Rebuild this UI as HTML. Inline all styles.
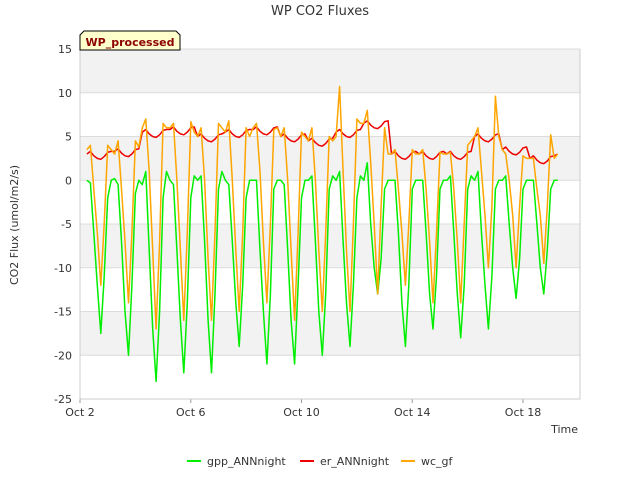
<!DOCTYPE html>
<html><head><meta charset="utf-8"><style>
body{margin:0;background:#fff;font-family:"Liberation Sans","DejaVu Sans",sans-serif;}
svg text{font-family:"DejaVu Sans","Liberation Sans",sans-serif;}
</style></head><body>
<svg id="c" width="640" height="480" xmlns="http://www.w3.org/2000/svg">
<text x="320" y="15" text-anchor="middle" font-size="13" fill="#333">WP CO2 Fluxes</text>
<g id="bands"></g><g id="grid"></g><g id="series"></g><g id="axes"></g>
<g>
<path d="M80,50 L80,35 L84,31 L176,31 L180,35 L180,50 Z" fill="#ffffcc" stroke="#000" stroke-width="1"/>
<text x="130" y="46" text-anchor="middle" font-size="11" font-weight="bold" fill="#8b0000">WP_processed</text>
</g>
<text x="18" y="225" transform="rotate(-90 18 225)" text-anchor="middle" font-size="11" fill="#333">CO2 Flux (umol/m2/s)</text>
<text x="578" y="433" text-anchor="end" font-size="11" fill="#333">Time</text>
<g id="legend"></g>
</svg>
<script>
const yTicks=[15,10,5,0,-5,-10,-15,-20,-25];
const xTickDays=[2,6,10,14,18];
const xTickLabels=["Oct 2","Oct 6","Oct 10","Oct 14","Oct 18"];
const startDay=2.25, stepDay=0.125;
const gpp=[0,-0.3,-6,-12,-17.5,-11,-2,0, 0.2,-0.5,-7,-15,-20,-12,-1.5,0, -0.5,1,-8,-17,-23,-15,-2,1, 0,-0.5,-8,-16,-22,-14,-2,0.5, 0,0.5,-7,-16,-22,-13,-1,1, 0,-0.5,-7,-14,-19,-12,-2,0, 0,0,-8,-15,-21,-13,-1,0, 0,-0.5,-8,-16,-21,-12,-2,0, 0,0.5,-7,-15,-20,-13,-1,0.5, 0,1,-7,-14,-19,-12,-2,0.5, 0,2,-5,-10,-13,-9,-1,0, 0,0,-6,-14,-19,-12,-1,0, 0,0,-6,-13,-17,-11,-1,0, 0,0.5,-6,-13,-18,-12,-1,0.5, 0,1,-6,-12,-17,-11,-1,0, 0,0.5,-5,-10,-13.5,-9,-1,0, 0,0,-5,-10,-13,-8,-1,0, 0];
const er=[3,3.3,2.8,2.5,2.4,2.7,3.2,3.3, 3.3,3.6,3.1,2.8,2.7,3,3.5,3.6, 5.5,5.8,5.3,5,4.9,5.2,5.7,5.8, 5.8,6.1,5.6,5.3,5.2,5.5,6,6.1, 5,5.3,4.8,4.5,4.4,4.7,5.2,5.3, 5.5,5.8,5.3,5,4.9,5.2,5.7,5.8, 5.8,6.1,5.6,5.3,5.2,5.5,6,6.1, 5,5.3,4.8,4.5,4.4,4.7,5.2,5.3, 4.5,4.8,4.3,4,3.9,4.2,4.7,4.8, 5.5,5.8,5.3,5,4.9,5.2,5.7,5.8, 6.5,6.8,6.3,6,5.9,6.2,6.7,6.8, 3,3.3,2.8,2.5,2.4,2.7,3.2,3.3, 3,3.3,2.8,2.5,2.4,2.7,3.2,3.3, 3,3.3,2.8,2.5,2.4,2.7,3.2,3.3, 5,5.3,4.8,4.5,4.4,4.7,5.2,5.3, 3.5,3.8,3.3,3,2.9,3.2,3.7,3.8, 2.5,2.8,2.3,2,1.9,2.2,2.7,2.8, 3];
const wc=[3.5,4,-1,-6,-12,-5,4,3.5, 3,4.5,-1,-7,-14,-6,4.5,3.8, 6,7,1,-8,-17,-7,6.5,6, 6,6.5,0,-8,-16,-6,6.7,5.5, 5,6,0,-9,-16,-6,6.5,6, 5.5,6.8,0,-8,-15,-6,6,5, 6,6.5,1,-7,-14,-5,5.8,6, 5,6,0,-8,-16,-6,5.5,5, 4.5,6,0,-8,-15,-6,5,4.5, 5,10.7,1,-8,-15,-5,7,6.5, 6.5,8,2,-5,-13,-3,6,3, 3,3.5,-1,-6,-12,-5,3.5,3, 3,3.5,-1,-7,-14,-6,3.2,3, 3,3.2,-1,-7,-14,-5,4,4.5, 5,6,1,-4,-10,-3,9.6,5, 3.5,3,0,-4,-10,-3,2.8,2.5, 2.5,2.5,-1,-4,-9.5,-3,5.2,2.5, 3];
const NS="http://www.w3.org/2000/svg";
const L=80,R=580,T=49,B=399,yMin=-25,yMax=15;
const xS=d=>80+(d-2)*27.69;
const yS=v=>T+(yMax-v)/(yMax-yMin)*(B-T);
function mk(tag,attrs,parent){const e=document.createElementNS(NS,tag);for(const k in attrs)e.setAttribute(k,attrs[k]);parent.appendChild(e);return e;}
const bands=document.getElementById('bands'),grid=document.getElementById('grid'),axes=document.getElementById('axes'),ser=document.getElementById('series'),leg=document.getElementById('legend');
mk('rect',{x:L,y:T,width:R-L,height:B-T,fill:'#fff'},bands);
for(let i=0;i<yTicks.length-1;i+=2){const a=yTicks[i],b=yTicks[i+1];
 const r=mk('rect',{x:L,y:yS(a),width:R-L,height:yS(b)-yS(a),fill:'#f2f2f2'},bands);
 
 }
yTicks.forEach(v=>{
 const ln=mk('line',{x1:L,x2:R,y1:yS(v),y2:yS(v),stroke:'#dcdcdc','stroke-width':1},grid);
 
 
 const t=mk('text',{x:L-8,y:yS(v)+4,'text-anchor':'end','font-size':11,fill:'#333'},axes);t.textContent=v;
 
 });
xTickDays.forEach((d,i)=>{
 const t=mk('text',{x:xS(d),y:416,'text-anchor':'middle','font-size':11,fill:'#333'},axes);t.textContent=xTickLabels[i];
 
 
 mk('line',{x1:xS(d),x2:xS(d),y1:B,y2:B+4,stroke:'#999'},axes);});
const ax=mk('path',{d:`M${L},${T}V${B}H${R}V${T}`,fill:'none',stroke:'#ccc'},axes);


const series=[["gpp_ANNnight",gpp,"#00ee00"],["er_ANNnight",er,"#ee0000"],["wc_gf",wc,"#ffa500"]];
series.forEach(([n,arr,col])=>{
 const d=arr.map((v,i)=>(i?'L':'M')+xS(startDay+i*stepDay).toFixed(1)+','+yS(v).toFixed(1)).join('');
 const p=mk('path',{d,fill:'none',stroke:col,'stroke-width':1.5,'stroke-linejoin':'round'},ser);
 
 });
const lx=[187,300,401];
series.forEach(([n,arr,col],i)=>{
 const g=mk('g',{},leg);
 
 
 mk('line',{x1:lx[i],x2:lx[i]+14,y1:461,y2:461,stroke:col,'stroke-width':2},g);
 const t=mk('text',{x:lx[i]+20,y:465,'font-size':11,fill:'#333'},g);t.textContent=n;});
</script>
</body></html>
